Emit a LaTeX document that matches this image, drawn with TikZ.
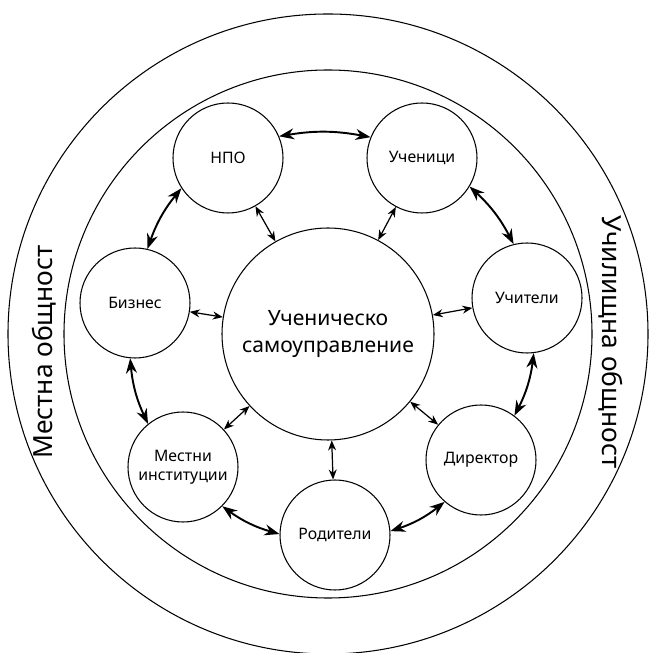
\documentclass[tikz,border=0pt]{standalone}
\usepackage{fontspec}
\setmainfont[Script=Cyrillic,Language=Bulgarian]{Noto Sans}
\usetikzlibrary{arrows.meta}

\tikzset{
  member/.style={draw, circle, minimum size=2.2cm, inner sep=0pt, align=center, font=\fontsize{9}{11}\selectfont},
  ring/.style={{Stealth[length=3mm,width=2.2mm]}-{Stealth[length=3mm,width=2.2mm]}, line width=1.1pt},
  link/.style={{Stealth[length=2mm,width=1.6mm]}-{Stealth[length=2mm,width=1.6mm]}, line width=0.7pt},
  zone/.style={font=\fontsize{15}{18}\selectfont},
}

\begin{document}
\begin{tikzpicture}[line width=0.6pt]
\useasboundingbox (-6.56,-6.38) rectangle (6.40,6.68);
        \coordinate (O) at (0, 0);
\draw (O) circle (6.4);
\draw (O) circle (5.28);
\node[zone, rotate=90] (local) at (-5.68, -0.36) {Местна общност};
\node[zone, rotate=-90] (school) at (5.66, -0.16) {Училищна общност};

\node[draw, circle, minimum size=4.24cm, inner sep=0pt, align=center, font=\fontsize{12}{15}\selectfont] (self) at (O) {Ученическо\\самоуправление};
\node[member] (ngo) at (-2.0, 3.52) {НПО};
\node[member] (pupils) at (1.88, 3.52) {Ученици};
\node[member] (teachers) at (3.98, 0.72) {Учители};
\node[member] (head) at (3.06, -2.52) {Директор};
\node[member] (parents) at (0.14, -4.02) {Родители};
\node[member] (inst) at (-2.9, -2.66) {Местни\\институции};
\node[member] (biz) at (-3.86, 0.62) {Бизнес};

% around the ring
\draw[ring] (ngo.23) to[bend left=10] (pupils.158);
\draw[ring] (pupils.-31) to[bend left=10] (teachers.104);
\draw[ring] (teachers.-83) to[bend left=10] (head.53);
\draw[ring] (head.-131) to[bend left=10] (parents.4);
\draw[ring] (parents.179) to[bend left=10] (inst.-45);
\draw[ring] (inst.129) to[bend left=10] (biz.-95);
\draw[ring] (biz.77) to[bend left=10] (ngo.-147);

% to the centre
\draw[link] (self) -- (ngo);
\draw[link] (self) -- (pupils);
\draw[link] (self) -- (teachers);
\draw[link] (self) -- (head);
\draw[link] (self) -- (parents);
\draw[link] (self) -- (inst);
\draw[link] (self) -- (biz);
\end{tikzpicture}
\end{document}
